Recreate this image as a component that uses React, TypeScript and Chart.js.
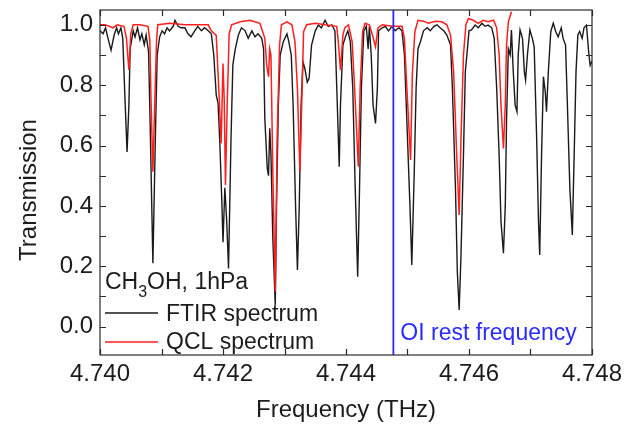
import React, { useEffect, useRef } from 'react';
import { Chart, registerables } from 'chart.js';

Chart.register(...registerables);

// ---------- data ----------
const X_MIN = 4.74;
const X_MAX = 4.748;
const X_STEP = 0.001;
const Y_MIN = -0.094;
const Y_MAX = 1.049;
const Y_STEP = 0.1;

const ftirFreq = [
  4.74000, 4.74005, 4.74009, 4.74013, 4.74018, 4.74023, 4.74027, 4.74030, 4.74034, 4.74037,
  4.74041, 4.74044, 4.74047, 4.74049, 4.74054, 4.74057, 4.74061, 4.74065, 4.74068, 4.74072,
  4.74075, 4.74079, 4.74082, 4.74086, 4.74090, 4.74093, 4.74097, 4.74101, 4.74105, 4.74109,
  4.74113, 4.74119, 4.74122, 4.74127, 4.74132, 4.74138, 4.74143, 4.74148, 4.74154, 4.74159,
  4.74165, 4.74170, 4.74176, 4.74181, 4.74185, 4.74189, 4.74192, 4.74195, 4.74198, 4.74200,
  4.74203, 4.74206, 4.74209, 4.74213, 4.74216, 4.74220, 4.74225, 4.74230, 4.74236, 4.74241,
  4.74247, 4.74252, 4.74257, 4.74263, 4.74266, 4.74268, 4.74272, 4.74274, 4.74276, 4.74278,
  4.74281, 4.74285, 4.74287, 4.74290, 4.74293, 4.74298, 4.74304, 4.74307, 4.74311, 4.74314,
  4.74318, 4.74321, 4.74324, 4.74327, 4.74330, 4.74333, 4.74337, 4.74340, 4.74344, 4.74350,
  4.74355, 4.74360, 4.74366, 4.74371, 4.74377, 4.74382, 4.74385, 4.74389, 4.74391, 4.74395,
  4.74399, 4.74403, 4.74407, 4.74411, 4.74415, 4.74419, 4.74422, 4.74425, 4.74429, 4.74433,
  4.74436, 4.74438, 4.74441, 4.74444, 4.74448, 4.74451, 4.74453, 4.74459, 4.74464, 4.74469,
  4.74475, 4.74480, 4.74486, 4.74491, 4.74495, 4.74499, 4.74504, 4.74507, 4.74511, 4.74514,
  4.74517, 4.74521, 4.74526, 4.74532, 4.74537, 4.74543, 4.74548, 4.74553, 4.74559, 4.74564,
  4.74570, 4.74573, 4.74578, 4.74581, 4.74584, 4.74587, 4.74591, 4.74594, 4.74597, 4.74600,
  4.74604, 4.74610, 4.74615, 4.74621, 4.74626, 4.74631, 4.74637, 4.74641, 4.74645, 4.74649,
  4.74652, 4.74656, 4.74659, 4.74661, 4.74664, 4.74667, 4.74669, 4.74672, 4.74675, 4.74678,
  4.74680, 4.74683, 4.74687, 4.74690, 4.74692, 4.74695, 4.74699, 4.74703, 4.74706, 4.74710,
  4.74713, 4.74715, 4.74718, 4.74721, 4.74724, 4.74726, 4.74729, 4.74733, 4.74737, 4.74741,
  4.74745, 4.74750, 4.74753, 4.74757, 4.74760, 4.74764, 4.74768, 4.74771, 4.74774, 4.74777,
  4.74780, 4.74784, 4.74787, 4.74791, 4.74795, 4.74797, 4.74800,
];

const ftirTrans = [
  0.98, 0.97, 0.99, 0.955, 0.916, 0.966, 0.99, 0.97, 0.99, 0.955,
  0.734, 0.579, 0.734, 0.92, 0.98, 0.96, 0.99, 0.95, 0.97, 0.934,
  0.966, 0.91, 0.624, 0.21, 0.624, 0.9, 0.96, 0.98, 0.97, 0.99,
  0.98, 0.995, 1.015, 0.995, 0.99, 0.99, 0.97, 0.96, 0.98, 0.995,
  0.98, 0.99, 0.98, 0.97, 0.9, 0.767, 0.74, 0.6, 0.42, 0.28,
  0.46, 0.35, 0.193, 0.62, 0.867, 0.92, 0.966, 0.99, 0.98, 0.955,
  0.98, 0.96, 0.97, 0.955, 0.92, 0.69, 0.524, 0.5, 0.657, 0.569,
  0.293, 0.072, 0.4, 0.734, 0.9, 0.944, 0.97, 0.944, 0.9, 0.734,
  0.4, 0.188, 0.4, 0.734, 0.878, 0.856, 0.81, 0.823, 0.933, 0.98,
  0.999, 0.99, 1.015, 0.995, 1.0, 0.98, 0.79, 0.53, 0.734, 0.933,
  0.96, 0.98, 0.944, 0.79, 0.458, 0.165, 0.458, 0.79, 0.98, 0.995,
  0.92, 0.995, 0.9, 0.734, 0.673, 0.79, 0.98, 0.99, 0.995, 0.98,
  0.995, 0.98, 0.99, 0.98, 0.9, 0.679, 0.4, 0.204, 0.513, 0.79,
  0.92, 0.944, 0.98, 0.99, 0.98, 0.995, 1.0, 0.99, 0.98, 0.966,
  0.933, 0.79, 0.458, 0.182, 0.055, 0.237, 0.569, 0.844, 0.91, 0.98,
  0.983, 0.999, 0.99, 1.005, 0.995, 0.999, 0.99, 0.955, 0.79, 0.569,
  0.348, 0.243, 0.4, 0.679, 0.92, 0.9, 0.983, 0.844, 0.734, 0.712,
  0.9, 0.983, 0.955, 0.844, 0.817, 0.9, 0.983, 0.955, 0.927, 0.624,
  0.348, 0.237, 0.569, 0.828, 0.778, 0.712, 0.844, 0.978, 1.005, 0.978,
  0.96, 0.99, 0.955, 0.933, 0.734, 0.458, 0.304, 0.569, 0.844, 0.966,
  0.978, 0.955, 0.99, 0.999, 0.9, 0.866, 0.88,
];

const qclFreq = [
  4.74000, 4.74008, 4.74015, 4.74021, 4.74028, 4.74039, 4.74043, 4.74047, 4.74050, 4.74054,
  4.74065, 4.74078, 4.74081, 4.74083, 4.74086, 4.74089, 4.74092, 4.74094, 4.74114, 4.74138,
  4.74163, 4.74176, 4.74181, 4.74189, 4.74194, 4.74197, 4.74200, 4.74202, 4.74204, 4.74207,
  4.74210, 4.74214, 4.74228, 4.74244, 4.74260, 4.74268, 4.74271, 4.74274, 4.74276, 4.74278,
  4.74281, 4.74285, 4.74288, 4.74292, 4.74295, 4.74304, 4.74312, 4.74317, 4.74321, 4.74325,
  4.74328, 4.74331, 4.74336, 4.74350, 4.74366, 4.74385, 4.74387, 4.74391, 4.74395, 4.74398,
  4.74404, 4.74410, 4.74414, 4.74420, 4.74423, 4.74427, 4.74431, 4.74438, 4.74443, 4.74448,
  4.74452, 4.74459, 4.74475, 4.74491, 4.74495, 4.74499, 4.74505, 4.74508, 4.74512, 4.74517,
  4.74526, 4.74534, 4.74545, 4.74556, 4.74564, 4.74570, 4.74575, 4.74580, 4.74584, 4.74587,
  4.74591, 4.74595, 4.74599, 4.74607, 4.74615, 4.74623, 4.74631, 4.74640, 4.74645, 4.74649,
  4.74652, 4.74656, 4.74659, 4.74661, 4.74664, 4.74669,
];

const qclTrans = [
  1.0, 1.0, 0.995, 0.99, 1.0, 0.995, 0.955, 0.85, 0.97, 1.0,
  1.0, 0.995, 0.95, 0.75, 0.513, 0.74, 0.95, 1.0, 1.005, 1.0,
  1.0, 1.0, 0.98, 0.965, 0.75, 0.607, 0.872, 0.75, 0.469, 0.75,
  0.97, 1.0, 1.01, 1.015, 1.005, 0.955, 0.867, 0.828, 0.92, 0.9,
  0.513, 0.116, 0.624, 0.933, 1.0, 1.01, 1.0, 0.944, 0.79, 0.513,
  0.734, 0.977, 1.0, 1.005, 1.0, 0.995, 0.955, 0.85, 0.966, 0.99,
  1.0, 0.944, 0.79, 0.53, 0.79, 0.977, 1.005, 1.0, 0.966, 0.927,
  0.99, 1.0, 0.995, 0.995, 0.955, 0.79, 0.552, 0.844, 0.977, 1.015,
  1.012, 1.005, 1.012, 1.01, 1.0, 0.966, 0.844, 0.569, 0.37, 0.624,
  0.9, 1.0, 1.021, 1.015, 1.005, 1.015, 1.01, 1.015, 0.99, 0.9,
  0.734, 0.59, 0.734, 0.933, 1.01, 1.043,
];

const OI_FREQ = 4.74477;

const SAMPLE_TEXT = ['CH', '3', 'OH, 1hPa'];
const FTIR_LABEL = 'FTIR spectrum';
const QCL_LABEL = 'QCL spectrum';
const OI_LABEL = 'OI rest frequency';
const X_TITLE = 'Frequency (THz)';
const Y_TITLE = 'Transmission';

// ---------- style ----------
const FONT = '"Liberation Sans", Arial, Helvetica, sans-serif';
const TEXT_COLOR = '#1c1c1c';
const FTIR_COLOR = '#1a1a1a';
const QCL_COLOR = '#ff1e1e';
const OI_COLOR = '#2b2bff';

const decorPlugin = {
  id: 'decor',
  afterDatasetsDraw(chart: any) {
    const { ctx, chartArea: a, scales } = chart;
    const xs = scales.x;
    const ys = scales.y;
    ctx.save();
    // frame
    ctx.strokeStyle = '#2a2a2a';
    ctx.lineWidth = 1.2;
    ctx.strokeRect(a.left, a.top, a.right - a.left, a.bottom - a.top);
    // inward ticks on all four sides
    const TL = 6;
    ctx.beginPath();
    xs.ticks.forEach((t: any) => {
      const px = Math.round(xs.getPixelForValue(t.value)) + 0.5;
      ctx.moveTo(px, a.bottom);
      ctx.lineTo(px, a.bottom - TL);
      ctx.moveTo(px, a.top);
      ctx.lineTo(px, a.top + TL);
    });
    ys.ticks.forEach((t: any) => {
      const py = Math.round(ys.getPixelForValue(t.value)) + 0.5;
      ctx.moveTo(a.left, py);
      ctx.lineTo(a.left + TL, py);
      ctx.moveTo(a.right, py);
      ctx.lineTo(a.right - TL, py);
    });
    ctx.stroke();

    // legend / annotation block
    ctx.fillStyle = TEXT_COLOR;
    ctx.textAlign = 'left';
    ctx.textBaseline = 'alphabetic';
    const big = `23px ${FONT}`;
    const small = `16px ${FONT}`;
    let x = a.left + 5;
    const y0 = a.bottom - 66;
    ctx.font = big;
    ctx.fillText(SAMPLE_TEXT[0], x, y0);
    x += ctx.measureText(SAMPLE_TEXT[0]).width;
    ctx.font = small;
    ctx.fillText(SAMPLE_TEXT[1], x, y0 + 8);
    x += ctx.measureText(SAMPLE_TEXT[1]).width;
    ctx.font = big;
    ctx.fillText(SAMPLE_TEXT[2], x, y0);

    const lx0 = a.left + 5;
    const lx1 = a.left + 58;
    const tx = a.left + 66;
    const rows = [
      { label: FTIR_LABEL, color: FTIR_COLOR, lineY: a.bottom - 42, base: a.bottom - 34, w: 1.3 },
      { label: QCL_LABEL, color: QCL_COLOR, lineY: a.bottom - 13, base: a.bottom - 6, w: 1.6 },
    ];
    rows.forEach((r) => {
      ctx.strokeStyle = r.color;
      ctx.lineWidth = r.w;
      ctx.beginPath();
      ctx.moveTo(lx0, r.lineY);
      ctx.lineTo(lx1, r.lineY);
      ctx.stroke();
      ctx.fillStyle = TEXT_COLOR;
      ctx.font = big;
      ctx.fillText(r.label, tx, r.base);
    });

    // OI label
    const oiX = xs.getPixelForValue(OI_FREQ);
    ctx.fillStyle = OI_COLOR;
    ctx.font = big;
    ctx.fillText(OI_LABEL, oiX + 7, a.bottom - 15);
    ctx.restore();
  },
  afterDraw(chart: any) {
    const { ctx, chartArea: a } = chart;
    ctx.save();
    ctx.fillStyle = TEXT_COLOR;
    ctx.font = `24px ${FONT}`;
    ctx.textAlign = 'center';
    ctx.textBaseline = 'alphabetic';
    ctx.fillText(X_TITLE, (a.left + a.right) / 2, 417);
    ctx.translate(36, 190);
    ctx.rotate(-Math.PI / 2);
    ctx.fillText(Y_TITLE, 0, 0);
    ctx.restore();
  },
};

export default function App() {
  const ref = useRef<HTMLCanvasElement>(null);
  useEffect(() => {
    const canvas = ref.current;
    if (!canvas) return;
    const chart = new Chart(canvas, {
      type: 'line',
      data: {
        datasets: [
          {
            label: OI_LABEL,
            data: [
              { x: OI_FREQ, y: Y_MIN },
              { x: OI_FREQ, y: Y_MAX },
            ],
            borderColor: OI_COLOR,
            borderWidth: 1.8,
            pointRadius: 0,
            order: 0,
          },
          {
            label: QCL_LABEL,
            data: qclFreq.map((f, i) => ({ x: f, y: qclTrans[i] })),
            borderColor: QCL_COLOR,
            borderWidth: 1.5,
            pointRadius: 0,
            tension: 0,
            order: 1,
          },
          {
            label: FTIR_LABEL,
            data: ftirFreq.map((f, i) => ({ x: f, y: ftirTrans[i] })),
            borderColor: FTIR_COLOR,
            borderWidth: 1.4,
            pointRadius: 0,
            tension: 0,
            order: 2,
          },
        ],
      },
      options: {
        animation: false,
        responsive: true,
        maintainAspectRatio: false,
        layout: { padding: { left: 0, top: 10, right: 44, bottom: 0 } },
        plugins: { legend: { display: false }, tooltip: { enabled: false } },
        scales: {
          x: {
            type: 'linear',
            min: X_MIN,
            max: X_MAX,
            grid: { display: false, drawTicks: false },
            border: { display: false },
            ticks: {
              stepSize: X_STEP,
              autoSkip: false,
              maxRotation: 0,
              padding: 5,
              color: TEXT_COLOR,
              font: { family: FONT, size: 24 },
              callback: (v: any, i: number) => (i % 2 === 0 ? Number(v).toFixed(3) : ''),
            },
            afterFit: (s: any) => {
              s.height = 69;
              s.paddingLeft = 0;
              s.paddingRight = 0;
            },
          },
          y: {
            type: 'linear',
            min: Y_MIN,
            max: Y_MAX,
            grid: { display: false, drawTicks: false },
            border: { display: false },
            ticks: {
              stepSize: Y_STEP,
              includeBounds: false,
              autoSkip: false,
              padding: 7,
              color: TEXT_COLOR,
              font: { family: FONT, size: 24 },
              callback: (v: any) => {
                const k = Math.round(Number(v) * 10);
                return k % 2 === 0 ? (k / 10).toFixed(1) : '';
              },
            },
            afterFit: (s: any) => {
              s.width = 100;
              s.paddingTop = 0;
              s.paddingBottom = 0;
            },
          },
        },
      },
      plugins: [decorPlugin],
    });
    return () => chart.destroy();
  }, []);

  return (
    <div style={{ position: 'absolute', left: 0, top: 0, width: 636, height: 424, background: '#fff' }}>
      <canvas ref={ref} />
    </div>
  );
}
